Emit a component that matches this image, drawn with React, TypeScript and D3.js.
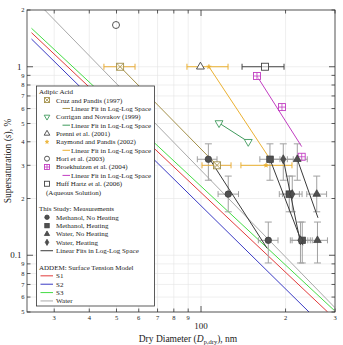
import React, { useEffect, useRef } from 'react';
import * as d3 from 'd3';

// axis ticks
const xTickValues = [30, 40, 50, 60, 70, 80, 90, 100, 200, 300];
const xTickLabels = ['3', '4', '5', '6', '7', '8', '9', '100', '2', '3'];
const yTickValues = [0.05, 0.06, 0.07, 0.08, 0.09, 0.1, 0.2, 0.3, 0.4, 0.5, 0.6, 0.7, 0.8, 0.9, 1, 2];
const yTickLabels = ['5', '6', '7', '8', '9', '0.1', '2', '3', '4', '5', '6', '7', '8', '9', '1', '2'];

// literature data, adipic acid
const cruzD = [51.5, 114];
const cruzS = [1.0, 0.3];
const cruzDLo = [45.1, 100.8];
const cruzDHi = [58.2, 127.9];
const cruzFitD = [51.5, 114];
const cruzFitS = [1.0, 0.3];

const corriganD = [115.9, 147.3];
const corriganS = [0.503, 0.4];
const corriganFitD = [115.9, 147.3];
const corriganFitS = [0.503, 0.4];

const prenniD = [99.5];
const prenniS = [1.0];

const raymondD = [106.7, 170.4];
const raymondS = [1.0, 0.3];
const raymondDLo = [89.1, 138.7];
const raymondDHi = [124.8, 210.8];
const raymondFitD = [106.7, 176];
const raymondFitS = [1.0, 0.324];

const horiD = [49.8];
const horiS = [1.665];

const broekD = [158.2, 194.2, 228.3];
const broekS = [0.893, 0.611, 0.333];
const broekFitD = [158.2, 228.3];
const broekFitS = [0.893, 0.377];

const huffD = [169];
const huffS = [1.0];
const huffDLo = [140];
const huffDHi = [197.5];

// this study: measurements
const studyS = [0.323, 0.211, 0.12];
const studySLo = [0.25, 0.17, 0.091];
const studySHi = [0.39, 0.263, 0.15];

const methNoHeatD = [106.2, 125, 173.6];
const methNoHeatDLo = [97, 115, 160];
const methNoHeatDHi = [114, 136, 188];
const methNoHeatFitD = [106.2, 171.8];
const methNoHeatFitS = [0.332, 0.109];

const methHeatD = [176, 206.2, 229.4];
const methHeatDLo = [162, 190, 211];
const methHeatDHi = [191, 224, 249];
const methHeatFitD = [176, 230.7];
const methHeatFitS = [0.323, 0.113];

const waterNoHeatD = [220.2, 258.3, 259.8];
const waterNoHeatDLo = [203, 238, 240];
const waterNoHeatDHi = [239, 280, 282];
const waterNoHeatFitD = [220.2, 260.9];
const waterNoHeatFitS = [0.323, 0.158];

const waterHeatD = [196.3, 211.3, 226];
const waterHeatDLo = [181, 195, 208];
const waterHeatDHi = [213, 229, 245];
const waterHeatFitD = [196.3, 225.1];
const waterHeatFitS = [0.323, 0.12];

// ADDEM model lines
const s1D = [24.9, 282.5];
const s1S = [1.516, 0.05];
const s2D = [24.9, 242.4];
const s2S = [1.403, 0.05];
const s3D = [24.9, 297.6];
const s3S = [1.6, 0.0511];
const addemWaterD = [24.9, 300];
const addemWaterS = [2.36, 0.0527];

const C = {
  cruz: '#a3904a',
  cruzErr: '#e8ad3c',
  corrigan: '#3f9a5c',
  raymond: '#ebb132',
  broek: '#c23ec2',
  lit: '#444',
  study: '#505050',
  studyErr: '#a0a0a0',
  fit: '#3a3a3a',
  s1: '#e23b3b',
  s2: '#3b3bc4',
  s3: '#45dc45',
  water: '#a8a8a8',
};

const FONT = "'Liberation Serif', 'Times New Roman', serif";

const App = () => {
  const svgRef = useRef(null);

  useEffect(() => {
    const root = d3.select(svgRef.current);
    root.selectAll('*').remove();

    const L = 27, R = 335, T = 10, B = 312;
    const x = d3.scaleLog().domain([24, 300]).range([L, R]);
    const y = d3.scaleLog().domain([0.05, 2]).range([B, T]);

    const svg = root.append('g');

    // grid
    svg.append('g').selectAll('line').data(xTickValues).enter().append('line')
      .attr('x1', d => x(d)).attr('x2', d => x(d)).attr('y1', T).attr('y2', B)
      .attr('stroke', '#e4e4e4').attr('stroke-width', 0.6);
    svg.append('g').selectAll('line').data(yTickValues).enter().append('line')
      .attr('y1', d => y(d)).attr('y2', d => y(d)).attr('x1', L).attr('x2', R)
      .attr('stroke', '#e4e4e4').attr('stroke-width', 0.6);

    svg.append('clipPath').attr('id', 'plotClip')
      .append('rect').attr('x', L).attr('y', T).attr('width', R - L).attr('height', B - T);

    const plot = svg.append('g').attr('clip-path', 'url(#plotClip)');

    const line = d3.line<[number, number]>().x(d => x(d[0])).y(d => y(d[1]));
    const drawLine = (ds: number[], ss: number[], color: string, w = 1) => {
      plot.append('path')
        .datum(ds.map((d, i) => [d, ss[i]] as [number, number]))
        .attr('d', line).attr('fill', 'none').attr('stroke', color).attr('stroke-width', w);
    };

    // ADDEM lines
    drawLine(addemWaterD, addemWaterS, C.water);
    drawLine(s3D, s3S, C.s3);
    drawLine(s1D, s1S, C.s1);
    drawLine(s2D, s2S, C.s2);

    // error bars
    const hErr = (g, lo: number, hi: number, s: number, color: string) => {
      const yy = y(s);
      g.append('line').attr('x1', x(lo)).attr('x2', x(hi)).attr('y1', yy).attr('y2', yy)
        .attr('stroke', color).attr('stroke-width', 1);
      [lo, hi].forEach(v => g.append('line').attr('x1', x(v)).attr('x2', x(v))
        .attr('y1', yy - 3).attr('y2', yy + 3).attr('stroke', color).attr('stroke-width', 1));
    };
    const vErr = (g, d: number, lo: number, hi: number, color: string) => {
      const xx = x(d);
      g.append('line').attr('x1', xx).attr('x2', xx).attr('y1', y(lo)).attr('y2', y(hi))
        .attr('stroke', color).attr('stroke-width', 1);
      [lo, hi].forEach(v => g.append('line').attr('x1', xx - 3.5).attr('x2', xx + 3.5)
        .attr('y1', y(v)).attr('y2', y(v)).attr('stroke', color).attr('stroke-width', 1));
    };

    // markers
    const marker = (g, type: string, cx: number, cy: number, color: string, sz = 7) => {
      const h = sz / 2;
      const m = g.append('g').attr('transform', `translate(${cx},${cy})`);
      if (type === 'boxX' || type === 'boxPlus' || type === 'square') {
        m.append('rect').attr('x', -h).attr('y', -h).attr('width', sz).attr('height', sz)
          .attr('fill', 'white').attr('fill-opacity', 0.6).attr('stroke', color).attr('stroke-width', 0.9);
        if (type === 'boxX') {
          m.append('path').attr('d', `M${-h},${-h}L${h},${h}M${-h},${h}L${h},${-h}`)
            .attr('stroke', color).attr('stroke-width', 0.8);
        }
        if (type === 'boxPlus') {
          m.append('path').attr('d', `M0,${-h}L0,${h}M${-h},0L${h},0`)
            .attr('stroke', color).attr('stroke-width', 0.8);
        }
      } else if (type === 'triUp' || type === 'triDown') {
        const p = d3.symbol().type(d3.symbolTriangle).size(sz * sz * 0.55)();
        m.append('path').attr('d', p).attr('transform', type === 'triDown' ? 'rotate(180)' : null)
          .attr('fill', 'white').attr('stroke', color).attr('stroke-width', 0.9);
      } else if (type === 'circle') {
        m.append('circle').attr('r', h).attr('fill', 'none').attr('stroke', color).attr('stroke-width', 0.9);
      } else if (type === 'star') {
        m.append('path').attr('d', d3.symbol().type(d3.symbolStar).size(sz * 1.6)())
          .attr('fill', color).attr('stroke', color).attr('stroke-width', 0.5);
      } else if (type === 'fCircle') {
        m.append('circle').attr('r', h).attr('fill', C.study).attr('stroke', '#3a3a3a').attr('stroke-width', 0.7);
      } else if (type === 'fSquare') {
        m.append('rect').attr('x', -h).attr('y', -h).attr('width', sz).attr('height', sz)
          .attr('fill', C.study).attr('stroke', '#3a3a3a').attr('stroke-width', 0.7);
      } else if (type === 'fTri') {
        m.append('path').attr('d', d3.symbol().type(d3.symbolTriangle).size(sz * sz * 0.6)())
          .attr('fill', C.study).attr('stroke', '#3a3a3a').attr('stroke-width', 0.7);
      } else if (type === 'fDiamond') {
        m.append('path').attr('d', d3.symbol().type(d3.symbolDiamond).size(sz * sz * 0.55)())
          .attr('fill', C.study).attr('stroke', '#3a3a3a').attr('stroke-width', 0.7);
      }
    };

    // this study: error bars first
    const study = [
      { d: methNoHeatD, lo: methNoHeatDLo, hi: methNoHeatDHi, type: 'fCircle' },
      { d: methHeatD, lo: methHeatDLo, hi: methHeatDHi, type: 'fSquare' },
      { d: waterHeatD, lo: waterHeatDLo, hi: waterHeatDHi, type: 'fDiamond' },
      { d: waterNoHeatD, lo: waterNoHeatDLo, hi: waterNoHeatDHi, type: 'fTri' },
    ];
    const errG = plot.append('g');
    study.forEach(sr => sr.d.forEach((d, i) => {
      vErr(errG, d, studySLo[i], studySHi[i], C.studyErr);
      hErr(errG, sr.lo[i], sr.hi[i], studyS[i], C.studyErr);
    }));

    // literature error bars
    cruzD.forEach((d, i) => hErr(plot, cruzDLo[i], cruzDHi[i], cruzS[i], C.cruzErr));
    raymondD.forEach((d, i) => hErr(plot, raymondDLo[i], raymondDHi[i], raymondS[i], C.raymond));
    huffD.forEach((d, i) => hErr(plot, huffDLo[i], huffDHi[i], huffS[i], C.lit));

    // literature fits
    drawLine(cruzFitD, cruzFitS, C.cruz);
    drawLine(corriganFitD, corriganFitS, C.corrigan);
    drawLine(raymondFitD, raymondFitS, C.raymond);
    drawLine(broekFitD, broekFitS, C.broek);

    // study fits
    drawLine(methNoHeatFitD, methNoHeatFitS, C.fit);
    drawLine(methHeatFitD, methHeatFitS, C.fit);
    drawLine(waterHeatFitD, waterHeatFitS, C.fit);
    drawLine(waterNoHeatFitD, waterNoHeatFitS, C.fit);

    // markers
    cruzD.forEach((d, i) => marker(plot, 'boxX', x(d), y(cruzS[i]), C.cruz));
    corriganD.forEach((d, i) => marker(plot, 'triDown', x(d), y(corriganS[i]), C.corrigan));
    prenniD.forEach((d, i) => marker(plot, 'triUp', x(d), y(prenniS[i]), C.lit));
    raymondD.forEach((d, i) => marker(plot, 'star', x(d), y(raymondS[i]), C.raymond, 4));
    horiD.forEach((d, i) => marker(plot, 'circle', x(d), y(horiS[i]), C.lit));
    broekD.forEach((d, i) => marker(plot, 'boxPlus', x(d), y(broekS[i]), C.broek));
    huffD.forEach((d, i) => marker(plot, 'square', x(d), y(huffS[i]), C.lit));
    study.forEach(sr => sr.d.forEach((d, i) => marker(plot, sr.type, x(d), y(studyS[i]), C.study, 6.5)));

    // frame and ticks
    svg.append('rect').attr('x', L).attr('y', T).attr('width', R - L).attr('height', B - T)
      .attr('fill', 'none').attr('stroke', '#333').attr('stroke-width', 0.8);

    const ticks = svg.append('g').attr('stroke', '#333').attr('stroke-width', 0.8);
    xTickValues.forEach(v => {
      const len = v === 100 ? 6 : 3.5;
      ticks.append('line').attr('x1', x(v)).attr('x2', x(v)).attr('y1', B).attr('y2', B - len);
      ticks.append('line').attr('x1', x(v)).attr('x2', x(v)).attr('y1', T).attr('y2', T + len);
    });
    yTickValues.forEach(v => {
      const len = v === 1 || v === 0.1 ? 6 : 3.5;
      ticks.append('line').attr('y1', y(v)).attr('y2', y(v)).attr('x1', L).attr('x2', L + len);
      ticks.append('line').attr('y1', y(v)).attr('y2', y(v)).attr('x1', R).attr('x2', R - len);
    });

    const labels = svg.append('g').attr('font-family', FONT).attr('fill', '#222');
    xTickValues.forEach((v, i) => {
      const major = v === 100;
      labels.append('text').attr('x', x(v)).attr('y', major ? 329 : 319.5)
        .attr('text-anchor', 'middle').attr('font-size', major ? 9 : 6.5).text(xTickLabels[i]);
    });
    yTickValues.forEach((v, i) => {
      const major = v === 1 || v === 0.1;
      labels.append('text').attr('x', major ? 21.5 : 24.5).attr('y', y(v)).attr('dy', '0.35em')
        .attr('text-anchor', 'end').attr('font-size', major ? 9 : 6.5).text(yTickLabels[i]);
    });

    // axis titles
    const xt = labels.append('text').attr('x', 188).attr('y', 342).attr('text-anchor', 'middle').attr('font-size', 9.5);
    xt.append('tspan').text('Dry Diameter (');
    xt.append('tspan').attr('font-style', 'italic').text('D');
    xt.append('tspan').attr('font-size', 6.5).attr('dy', 2).text('p,dry');
    xt.append('tspan').attr('dy', -2).text('), nm');

    const yt = labels.append('text').attr('transform', 'translate(11,161) rotate(-90)')
      .attr('text-anchor', 'middle').attr('font-size', 9.5);
    yt.append('tspan').text('Supersaturation  (');
    yt.append('tspan').attr('font-style', 'italic').text('s');
    yt.append('tspan').text('), %');

    // legend
    const lg = svg.append('g').attr('font-family', FONT).attr('font-size', 7).attr('fill', '#222');
    lg.append('rect').attr('x', 36.5).attr('y', 86).attr('width', 118).attr('height', 220)
      .attr('fill', 'white').attr('stroke', '#333').attr('stroke-width', 0.8);

    const rows = [
      { kind: 'title', text: 'Adipic Acid' },
      { kind: 'mark', m: 'boxX', c: C.cruz, text: 'Cruz and Pandis (1997)' },
      { kind: 'fit', c: C.cruz, text: 'Linear Fit in Log-Log Space' },
      { kind: 'mark', m: 'triDown', c: C.corrigan, text: 'Corrigan and Novakov (1999)' },
      { kind: 'fit', c: C.corrigan, text: 'Linear Fit in Log-Log Space' },
      { kind: 'mark', m: 'triUp', c: C.lit, text: 'Prenni et al. (2001)' },
      { kind: 'mark', m: 'star', c: C.raymond, text: 'Raymond and Pandis (2002)' },
      { kind: 'fit', c: C.raymond, text: 'Linear Fit in Log-Log Space' },
      { kind: 'mark', m: 'circle', c: C.lit, text: 'Hori et al. (2003)' },
      { kind: 'mark', m: 'boxPlus', c: C.broek, text: 'Broekhuizen et al. (2004)' },
      { kind: 'fit', c: C.broek, text: 'Linear Fit in Log-Log Space' },
      { kind: 'mark', m: 'square', c: C.lit, text: 'Huff Hartz et al. (2006)' },
      { kind: 'indent', text: '(Aqueous Solution)' },
      { kind: 'blank' },
      { kind: 'title', text: 'This Study: Measurements' },
      { kind: 'mark', m: 'fCircle', c: C.study, text: 'Methanol, No Heating' },
      { kind: 'mark', m: 'fSquare', c: C.study, text: 'Methanol, Heating' },
      { kind: 'mark', m: 'fTri', c: C.study, text: 'Water, No Heating' },
      { kind: 'mark', m: 'fDiamond', c: C.study, text: 'Water, Heating' },
      { kind: 'line', c: C.fit, text: 'Linear Fits in Log-Log Space' },
      { kind: 'blank' },
      { kind: 'title', text: 'ADDEM: Surface Tension Model' },
      { kind: 'line', c: C.s1, text: 'S1' },
      { kind: 'line', c: C.s2, text: 'S2' },
      { kind: 'line', c: C.s3, text: 'S3' },
      { kind: 'line', c: C.water, text: 'Water' },
    ];
    rows.forEach((r, i) => {
      const yy = 91.7 + i * 8.37;
      if (r.kind === 'blank') return;
      let tx = 56;
      if (r.kind === 'title') tx = 39;
      if (r.kind === 'indent') tx = 46;
      if (r.kind === 'fit') {
        tx = 71;
        lg.append('line').attr('x1', 62.5).attr('x2', 70).attr('y1', yy).attr('y2', yy)
          .attr('stroke', r.c).attr('stroke-width', 1);
      }
      if (r.kind === 'line') {
        lg.append('line').attr('x1', 40.5).attr('x2', 53).attr('y1', yy).attr('y2', yy)
          .attr('stroke', r.c).attr('stroke-width', 1);
      }
      if (r.kind === 'mark') {
        const small = r.m.startsWith('f');
        marker(lg, r.m, 47, yy, r.c, r.m === 'star' ? 3 : small ? 4.5 : 5);
      }
      lg.append('text').attr('x', tx).attr('y', yy).attr('dy', '0.35em').text(r.text);
    });
  }, []);

  return (
    <svg ref={svgRef} width={343} height={345}
      style={{ position: 'absolute', left: 0, top: 0, background: 'white' }} />
  );
};

export default App;
